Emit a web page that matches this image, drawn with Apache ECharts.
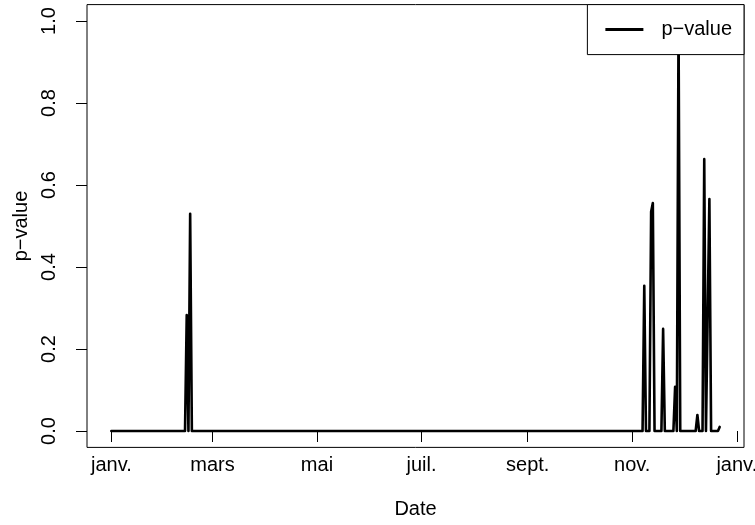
<!DOCTYPE html>
<html>
<head>
<meta charset="utf-8">
<script src="https://cdn.jsdelivr.net/npm/echarts@6/dist/echarts.min.js"></script>
<style>
html,body{margin:0;padding:0;background:#fff;}
#chart{width:755px;height:525px;}
</style>
</head>
<body>
<div id="chart"></div>
<script>
// Daily p-values: only the turning points are listed; the series is flat at 0 between them.
const dates = [
  '2021-01-01','2021-02-07','2021-02-08','2021-02-09','2021-02-13','2021-02-14','2021-02-15',
  '2021-02-16','2021-02-17','2021-02-20','2021-02-21','2021-02-22',
  '2021-11-07','2021-11-08','2021-11-09','2021-11-11','2021-11-12','2021-11-13','2021-11-14',
  '2021-11-18','2021-11-19','2021-11-20','2021-11-25','2021-11-26','2021-11-27','2021-11-28',
  '2021-11-29','2021-12-08','2021-12-09','2021-12-10','2021-12-12','2021-12-13','2021-12-14',
  '2021-12-15','2021-12-16','2021-12-17','2021-12-21','2021-12-22'
];
const pvalues = [
  0, 0, 0.004, 0, 0, 0.283, 0,
  0.530, 0, 0, 0.004, 0,
  0, 0.354, 0, 0, 0.535, 0.556, 0,
  0, 0.249, 0, 0, 0.108, 0, 0.995,
  0, 0, 0.039, 0, 0, 0.663, 0,
  0, 0.566, 0, 0, 0.010
];
const xTickDates = ['2021-01-01','2021-03-01','2021-05-01','2021-07-01','2021-09-01','2021-11-01','2022-01-01'];
const xTickLabels = ['janv.','mars','mai','juil.','sept.','nov.','janv.'];
const yTicks = [0, 0.2, 0.4, 0.6, 0.8, 1.0];
const seriesName = 'p\u2212value';
const xTitle = 'Date';
const yTitle = 'p\u2212value';

const FONT = '"Liberation Sans", Arial, Helvetica, sans-serif';
const FS = 20;
const ts = dates.map(d => Date.parse(d));
const xTickTs = xTickDates.map(d => Date.parse(d));
const tMin = Math.min(...ts), tMax = Math.max(...ts);
const pad = 0.04 * (tMax - tMin);
const yLo = Math.min(...pvalues), yHi = Math.max(...yTicks);
const yPad = 0.04 * (yHi - yLo);

const chart = echarts.init(document.getElementById('chart'), null, {renderer: 'canvas'});
chart.setOption({
  animation: false,
  backgroundColor: '#ffffff',
  textStyle: {fontFamily: FONT, color: '#000'},
  grid: {
    left: 87, right: 11, top: 4.6, bottom: 77.6,
    outerBoundsMode: 'none', containLabel: false,
    show: true, borderColor: '#000', borderWidth: 1, backgroundColor: 'transparent'
  },
  legend: {
    show: true,
    right: 11, top: 4.6,
    orient: 'vertical',
    backgroundColor: '#ffffff',
    borderColor: '#000', borderWidth: 1, borderRadius: 0,
    padding: [15, 12, 15, 18],
    itemWidth: 38, itemHeight: 3,
    icon: 'rect',
    textStyle: {fontSize: FS, color: '#000', fontFamily: FONT, padding: [0, 0, 0, 13]},
    data: [{name: seriesName, itemStyle: {color: '#000'}}]
  },
  xAxis: {
    type: 'value',
    min: tMin - pad, max: tMax + pad,
    axisLine: {show: false},
    splitLine: {show: false},
    axisTick: {show: true, length: 11, lineStyle: {color: '#000', width: 1}, customValues: xTickTs},
    axisLabel: {
      show: true, customValues: xTickTs, fontSize: FS, color: '#000', margin: 8, fontFamily: FONT,
      hideOverlap: false,
      formatter: v => { const i = xTickTs.indexOf(v); return i >= 0 ? xTickLabels[i] : ''; }
    },
    name: xTitle, nameLocation: 'middle', nameGap: 52,
    nameTextStyle: {fontSize: FS, color: '#000', fontFamily: FONT}
  },
  yAxis: {
    type: 'value',
    min: yLo - yPad, max: yHi + yPad,
    axisLine: {show: false},
    splitLine: {show: false},
    axisTick: {show: true, length: 11, lineStyle: {color: '#000', width: 1}, customValues: yTicks},
    axisLabel: {
      show: true, customValues: yTicks, rotate: 90, fontSize: FS, color: '#000', margin: 28, fontFamily: FONT,
      formatter: v => v.toFixed(1)
    },
    name: yTitle, nameLocation: 'middle', nameGap: 56, nameRotate: 90,
    nameTextStyle: {fontSize: FS, color: '#000', fontFamily: FONT}
  },
  series: [{
    name: seriesName,
    type: 'line',
    data: ts.map((t, i) => [t, pvalues[i]]),
    showSymbol: false,
    symbol: 'none',
    lineStyle: {color: '#000', width: 2.6, cap: 'round', join: 'round'},
    itemStyle: {color: '#000'},
    z: 2
  }]
});
</script>
</body>
</html>
